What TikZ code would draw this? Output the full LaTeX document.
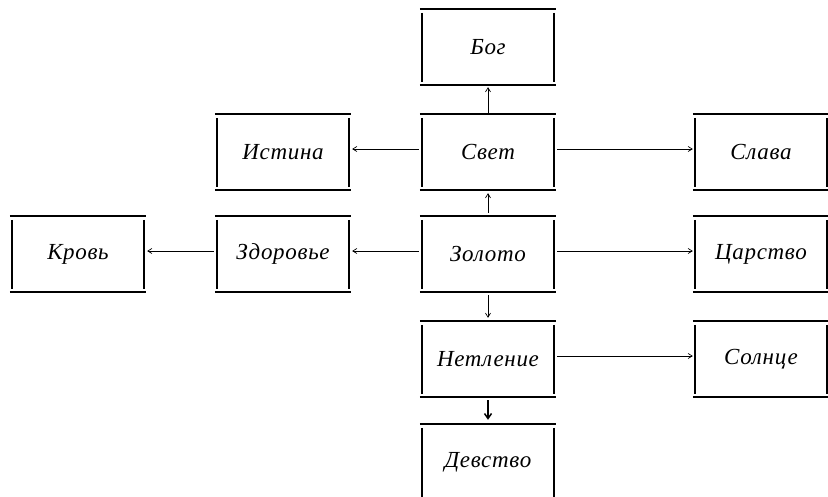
\documentclass[tikz,border=0pt]{standalone}
\usepackage{fontspec}
\setmainfont{Liberation Serif}
\newfontfamily\boxfont{Liberation Serif}[LetterSpace=3]
\usetikzlibrary{arrows.meta}
\newcommand\mkbox[3]{%
  \node[boxnode] (#1) at (#2) {#3};
  \draw[hbar] ([xshift=-2pt]#1.north west) -- ([xshift=2pt]#1.north east);
  \draw[hbar] ([xshift=-2pt]#1.south west) -- ([xshift=2pt]#1.south east);
  \draw[vbar] ([yshift=-4pt]#1.north west) -- ([yshift=3pt]#1.south west);
  \draw[vbar] ([yshift=-4pt]#1.north east) -- ([yshift=3pt]#1.south east);
}
\begin{document}
\begin{tikzpicture}[x=1pt,y=-1pt,
  boxnode/.style={minimum width=132pt,minimum height=76pt,inner sep=0pt,
    font=\boxfont\fontsize{23}{26}\selectfont\itshape},
  hbar/.style={line width=2.2pt},
  vbar/.style={line width=1.8pt},
  conn/.style={line width=0.7pt,-{Straight Barb[length=4pt,width=5pt]}},
  bigconn/.style={line width=1.5pt,-{Straight Barb[length=5pt,width=7pt]}}]
\useasboundingbox (0,0) rectangle (828,496);
\mkbox{bog}{488,47}{Бог}
\mkbox{svet}{488,152}{Свет}
\mkbox{istina}{283,152}{Истина}
\mkbox{slava}{761,152}{Слава}
\mkbox{krov}{78,254}{Кровь}
\mkbox{zdorovie}{283,254}{Здоровье}
\mkbox{zoloto}{488,254}{Золото}
\mkbox{tsarstvo}{761,254}{Царство}
\mkbox{netlenie}{488,359}{Нетление}
\mkbox{solntse}{761,359}{Солнце}
\mkbox{devstvo}{488,462}{Девство}
% connectors
\draw[conn,shorten >=2pt] (svet.north) -- (bog.south);
\draw[conn,shorten >=3pt] ([xshift=-3pt,yshift=3pt]svet.west) -- ([yshift=3pt]istina.east);
\draw[conn,shorten <=3pt,shorten >=2pt] ([yshift=3pt]svet.east) -- ([yshift=3pt]slava.west);
\draw[conn,shorten <=3pt,shorten >=3pt] (zoloto.north) -- (svet.south);
\draw[conn,shorten <=3pt,shorten >=3pt] ([yshift=3pt]zoloto.west) -- ([yshift=3pt]zdorovie.east);
\draw[conn,shorten <=3pt,shorten >=3pt] ([yshift=3pt]zdorovie.west) -- ([yshift=3pt]krov.east);
\draw[conn,shorten <=3pt,shorten >=2pt] ([yshift=3pt]zoloto.east) -- ([yshift=3pt]tsarstvo.west);
\draw[conn,shorten <=3pt,shorten >=3pt] (zoloto.south) -- (netlenie.north);
\draw[conn,shorten <=3pt,shorten >=2pt] ([yshift=3pt]netlenie.east) -- ([yshift=3pt]solntse.west);
\draw[bigconn,shorten <=3pt,shorten >=4pt] (netlenie.south) -- (devstvo.north);
\end{tikzpicture}
\end{document}
